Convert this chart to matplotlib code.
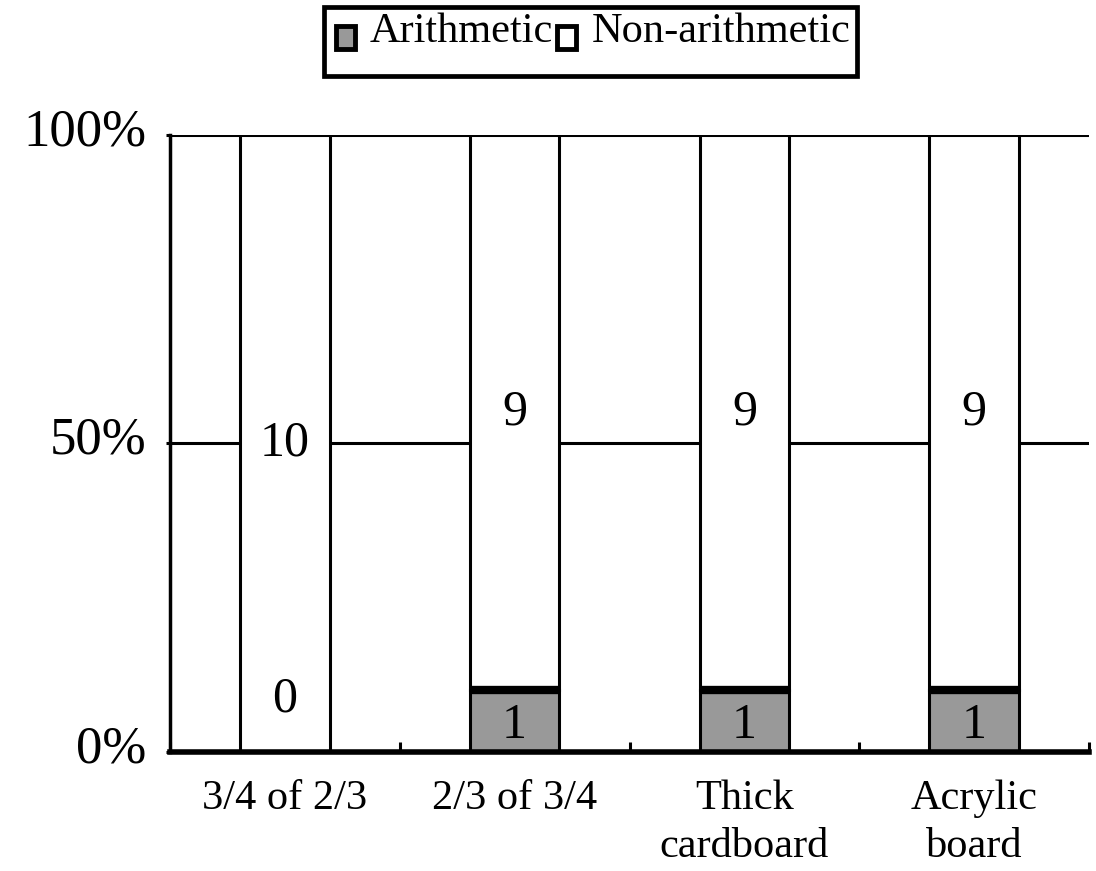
import numpy as np
import matplotlib.pyplot as plt
import matplotlib.transforms as mtransforms
from matplotlib.patches import Patch, Rectangle
from matplotlib.legend_handler import HandlerPatch

plt.rcParams['font.family'] = ['Liberation Serif', 'DejaVu Serif']

categories = ["3/4 of 2/3", "2/3 of 3/4", "Thick\ncardboard", "Acrylic\nboard"]
arithmetic = [0, 1, 1, 1]
non_arithmetic = [10, 9, 9, 9]

gray = '#999999'
W, H = 1096, 871

fig = plt.figure(figsize=(W/100, H/100), dpi=100)
ax = fig.add_axes([170/W, 1 - 752/H, 919/W, (752 - 135)/H])

x = np.arange(len(categories))
total = np.array(arithmetic) + np.array(non_arithmetic)
ar = np.array(arithmetic) / total * 100
na = np.array(non_arithmetic) / total * 100
w = 0.39

# gridlines
for yv in [50, 100]:
    ax.axhline(yv, color='black', lw=2.2, zorder=0)

ax.bar(x, ar, w, color=gray, edgecolor='black', lw=2.2, zorder=2)
ax.bar(x, na, w, bottom=ar, color='white', edgecolor='black', lw=2.2, zorder=2)
# thick separator on top of the gray segment
for xi, a in zip(x, ar):
    if a > 0:
        ax.plot([xi - w/2, xi + w/2], [a, a], color='black', lw=6, zorder=3,
                solid_capstyle='butt')

for xi, a, n, va, vn in zip(x, ar, na, arithmetic, non_arithmetic):
    ya = a / 2 - 0.8 if a > 0 else 8.6
    ax.text(xi, ya, str(va), ha='center', va='center', fontsize=36, zorder=4)
    ax.text(xi, a + n / 2, str(vn), ha='center', va='center', fontsize=36, zorder=4)

ax.set_xlim(-0.5, 3.5)
ax.set_ylim(0, 100)
ax.set_yticks([0, 50, 100])
ax.set_yticklabels(['0%', '50%', '100%'], fontsize=38)
ax.tick_params(axis='y', length=3, width=2.2, pad=14)
# y labels sit a bit above their lines in the original
shift = mtransforms.ScaledTranslation(0, 6/72, fig.dpi_scale_trans)
for lab in ax.get_yticklabels():
    lab.set_transform(lab.get_transform() + shift)
ax.set_xticks(x)
ax.set_xticklabels(categories, fontsize=30.5, linespacing=1.3)
ax.tick_params(axis='x', length=0, pad=20)
ax.set_xticks(np.arange(-0.5, 4, 1), minor=True)
ax.tick_params(axis='x', which='minor', direction='in', length=7, width=2.2)

for s in ['top', 'right']:
    ax.spines[s].set_visible(False)
ax.spines['left'].set_linewidth(2.5)
ax.spines['bottom'].set_linewidth(4)


# legend markers sit a little lower than the text, like in the original
def low_square(legend, orig_handle, xdescent, ydescent, width, height, fontsize):
    return Rectangle((-xdescent, -ydescent - 8), width, height)


# legend box
fig.patches.append(Rectangle((324/W, 1 - 76/H), 533/W, 69/H, transform=fig.transFigure,
                             facecolor='white', edgecolor='black', lw=3.4, zorder=0))
handles = [Patch(facecolor=gray, edgecolor='black', lw=3.5, label='Arithmetic'),
           Patch(facecolor='white', edgecolor='black', lw=3.5, label='Non-arithmetic')]
leg = fig.legend(handles=handles, loc='upper left', bbox_to_anchor=(336/W, 1 - 12/H),
                 ncol=2, fontsize=30.5, frameon=False, handlelength=0.45,
                 handleheight=0.45, handletextpad=0.35, columnspacing=0.1,
                 borderpad=0, borderaxespad=0,
                 handler_map={Patch: HandlerPatch(patch_func=low_square)})
leg.set_zorder(5)

fig.savefig('out.png', dpi=100)
